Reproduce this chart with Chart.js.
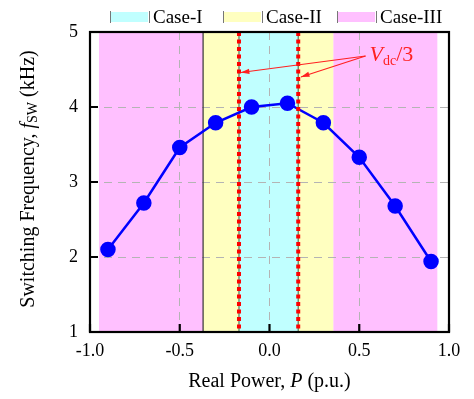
<!DOCTYPE html>
<html>
<head>
<meta charset="utf-8">
<script src="https://cdn.jsdelivr.net/npm/chart.js@4/dist/chart.umd.min.js"></script>
<style>
  html, body { margin: 0; padding: 0; background: #fff; }
  #wrap { width: 474px; height: 399px; }
</style>
</head>
<body>
<div id="wrap"><canvas id="myChart" width="474" height="399"></canvas></div>
<script>
// measured data
const powerPU = [-0.9, -0.7, -0.5, -0.3, -0.1, 0.1, 0.3, 0.5, 0.7, 0.9];
const fswKHz = [2.10, 2.72, 3.46, 3.79, 4.00, 4.05, 3.79, 3.33, 2.68, 1.94];

// operating regions (p.u.)
const caseNames = ['Case-I', 'Case-II', 'Case-III'];
const caseColors = ['#c0ffff', '#ffffc0', '#ffc0ff'];
const caseIRange = [-0.17, 0.16];
const caseIIRange = [-0.37, 0.355];
const caseIIIRanges = [[-0.95, -0.37], [0.355, 0.935]];
const vdcLines = [-0.17, 0.16];
const boundaryLine = -0.37;

// Vdc/3 label and arrow tips, data units
const vdcLabelAt = [0.535, 4.68];
const vdcArrowTips = [[-0.16, 4.46], [0.175, 4.40]];

const SERIF = '"Liberation Serif", "Times New Roman", serif';

function band(ctx, sx, area, x0, x1, color) {
    const a = sx.getPixelForValue(x0), b = sx.getPixelForValue(x1);
    ctx.fillStyle = color;
    ctx.fillRect(a, area.top, b - a, area.bottom - area.top);
}

function vline(ctx, sx, area, x, color, width, dash) {
    const px = sx.getPixelForValue(x);
    ctx.save();
    ctx.strokeStyle = color;
    ctx.lineWidth = width;
    ctx.setLineDash(dash || []);
    ctx.beginPath();
    ctx.moveTo(px, area.top);
    ctx.lineTo(px, area.bottom);
    ctx.stroke();
    ctx.restore();
}

// draws a list of [text, font, dy] pieces left to right, centred on x
function drawRich(ctx, parts, x, y) {
    let total = 0;
    parts.forEach(p => { ctx.font = p[1]; total += ctx.measureText(p[0]).width; });
    let cx = x - total / 2;
    parts.forEach(p => {
        ctx.font = p[1];
        ctx.fillText(p[0], cx, y + (p[2] || 0));
        cx += ctx.measureText(p[0]).width;
    });
}

const regionPlugin = {
    id: 'regions',
    beforeDraw(chart) {
        const {ctx, chartArea: area, scales: {x: sx}} = chart;
        ctx.save();
        caseIIIRanges.forEach(r => band(ctx, sx, area, r[0], r[1], caseColors[2]));
        band(ctx, sx, area, caseIIRange[0], caseIIRange[1], caseColors[1]);
        band(ctx, sx, area, caseIRange[0], caseIRange[1], caseColors[0]);
        ctx.restore();
    },
    beforeDatasetsDraw(chart) {
        const {ctx, chartArea: area, scales: {x: sx}} = chart;
        vline(ctx, sx, area, boundaryLine, '#333', 1.2);
        vdcLines.forEach(v => vline(ctx, sx, area, v, '#557755', 1.2));
    },
    afterDatasetsDraw(chart) {
        const {ctx, chartArea: area, scales: {x: sx}} = chart;
        vdcLines.forEach(v => vline(ctx, sx, area, v, '#ff0000', 4, [4, 3.5]));
    },
    afterDraw(chart) {
        const {ctx, chartArea: area, scales: {x: sx, y: sy}} = chart;
        ctx.save();

        // frame
        ctx.strokeStyle = '#000';
        ctx.lineWidth = 2.2;
        ctx.strokeRect(area.left, area.top, area.right - area.left, area.bottom - area.top);

        // inward ticks
        ctx.lineWidth = 2.2;
        ctx.beginPath();
        sx.ticks.forEach(t => {
            const px = sx.getPixelForValue(t.value);
            ctx.moveTo(px, area.bottom);
            ctx.lineTo(px, area.bottom - 8);
        });
        sy.ticks.forEach(t => {
            const py = sy.getPixelForValue(t.value);
            ctx.moveTo(area.left, py);
            ctx.lineTo(area.left + 8, py);
        });
        ctx.stroke();

        // legend
        const boxX = [110, 223, 337];
        ctx.textBaseline = 'alphabetic';
        ctx.textAlign = 'left';
        caseNames.forEach((name, i) => {
            ctx.fillStyle = caseColors[i];
            ctx.fillRect(boxX[i], 12, 38, 10);
            ctx.strokeStyle = '#777';
            ctx.lineWidth = 1;
            ctx.beginPath();
            ctx.moveTo(boxX[i] + 0.5, 11); ctx.lineTo(boxX[i] + 0.5, 23);
            ctx.moveTo(boxX[i] + 39.5, 11); ctx.lineTo(boxX[i] + 39.5, 23);
            ctx.stroke();
            ctx.fillStyle = '#000';
            ctx.font = '19px ' + SERIF;
            ctx.fillText(name, boxX[i] + 43, 23);
        });

        // x title
        ctx.fillStyle = '#000';
        drawRich(ctx, [
            ['Real Power, ', '20px ' + SERIF],
            ['P', 'italic 20px ' + SERIF],
            [' (p.u.)', '20px ' + SERIF]
        ], (area.left + area.right) / 2, 387);

        // y title
        ctx.save();
        ctx.translate(34, 179);
        ctx.rotate(-Math.PI / 2);
        drawRich(ctx, [
            ['Switching Frequency, ', '20px ' + SERIF],
            ['f', 'italic 20px ' + SERIF],
            ['SW', '14px ' + SERIF, 3],
            [' (kHz)', '20px ' + SERIF]
        ], 0, 0);
        ctx.restore();

        // Vdc/3 annotation
        const lx = sx.getPixelForValue(vdcLabelAt[0]);
        const ly = sy.getPixelForValue(vdcLabelAt[1]);
        ctx.strokeStyle = '#ff2020';
        ctx.fillStyle = '#ff2020';
        ctx.lineWidth = 1.2;
        vdcArrowTips.forEach(tip => {
            const tx = sx.getPixelForValue(tip[0]);
            const ty = sy.getPixelForValue(tip[1]);
            const ang = Math.atan2(ty - ly, tx - lx);
            ctx.beginPath();
            ctx.moveTo(lx, ly);
            ctx.lineTo(tx, ty);
            ctx.stroke();
            ctx.beginPath();
            ctx.moveTo(tx, ty);
            ctx.lineTo(tx - 9 * Math.cos(ang - 0.3), ty - 9 * Math.sin(ang - 0.3));
            ctx.lineTo(tx - 9 * Math.cos(ang + 0.3), ty - 9 * Math.sin(ang + 0.3));
            ctx.closePath();
            ctx.fill();
        });
        ctx.textAlign = 'left';
        let cx = lx + 4;
        const base = ly + 5;
        ctx.font = 'italic 22px ' + SERIF;
        ctx.fillText('V', cx, base);
        cx += ctx.measureText('V').width;
        ctx.font = '14px ' + SERIF;
        ctx.fillText('dc', cx, base + 4);
        cx += ctx.measureText('dc').width;
        ctx.font = '22px ' + SERIF;
        ctx.fillText('/3', cx, base);

        ctx.restore();
    }
};

const points = powerPU.map((p, i) => ({x: p, y: fswKHz[i]}));

new Chart(document.getElementById('myChart').getContext('2d'), {
    type: 'scatter',
    data: {
        datasets: [{
            label: 'fsw',
            data: points,
            showLine: true,
            borderColor: '#0000ff',
            backgroundColor: '#0000ff',
            borderWidth: 2.5,
            pointRadius: 6.5,
            pointHoverRadius: 6.5
        }]
    },
    options: {
        responsive: false,
        animation: false,
        layout: {padding: {left: 0, right: 25, top: 32, bottom: 0}},
        plugins: {legend: {display: false}, tooltip: {enabled: false}},
        scales: {
            x: {
                type: 'linear',
                min: -1, max: 1,
                afterFit: s => { s.height = 67; },
                ticks: {
                    stepSize: 0.5,
                    padding: 8,
                    color: '#000',
                    font: {family: SERIF, size: 18},
                    callback: v => v.toFixed(1)
                },
                grid: {
                    drawTicks: false,
                    lineWidth: 1,
                    color: ctx => (ctx.tick && (ctx.tick.value === -1 || ctx.tick.value === 1)) ? 'transparent' : '#b4b4b4'
                },
                border: {display: false, dash: [8, 6]}
            },
            y: {
                type: 'linear',
                min: 1, max: 5,
                afterFit: s => { s.width = 90; },
                ticks: {
                    stepSize: 1,
                    padding: 12,
                    color: '#000',
                    font: {family: SERIF, size: 18}
                },
                grid: {
                    drawTicks: false,
                    lineWidth: 1,
                    color: ctx => (ctx.tick && (ctx.tick.value === 1 || ctx.tick.value === 5)) ? 'transparent' : '#b4b4b4'
                },
                border: {display: false, dash: [8, 6]}
            }
        }
    },
    plugins: [regionPlugin]
});
</script>
</body>
</html>
